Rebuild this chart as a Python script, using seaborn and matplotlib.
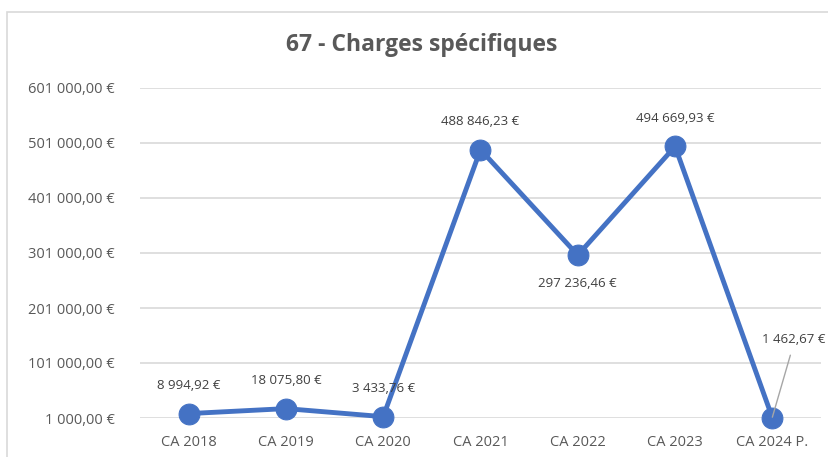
import matplotlib
matplotlib.use("Agg")
import matplotlib.pyplot as plt
import matplotlib.patches as mpatches
import seaborn as sns
import pandas as pd
import numpy as np

categories = ["CA 2018", "CA 2019", "CA 2020", "CA 2021", "CA 2022", "CA 2023", "CA 2024 P."]
values = [8994.92, 18075.80, 3433.76, 488846.23, 297236.46, 494669.93, 1462.67]
labels = ["8 994,92 €", "18 075,80 €", "3 433,76 €", "488 846,23 €", "297 236,46 €", "494 669,93 €", "1 462,67 €"]
yticks = [1000, 101000, 201000, 301000, 401000, 501000, 601000]
ytick_labels = ["1 000,00 €", "101 000,00 €", "201 000,00 €", "301 000,00 €", "401 000,00 €", "501 000,00 €", "601 000,00 €"]

sns.set_theme(style="white")
plt.rcParams['font.family'] = ['Open Sans', 'DejaVu Sans']

df = pd.DataFrame({"cat": categories, "val": values, "x": np.arange(len(categories))})

fig = plt.figure(figsize=(8.29, 4.57), dpi=100)
ax = fig.add_axes([140/829, 1-418/457, 681/829, 330/457])

# border of the chart area (left and top visible)
fig.patches.append(mpatches.Rectangle((7/829, -0.05), 1.1, 1 - 12/457 + 0.05, transform=fig.transFigure,
                                      fill=False, edgecolor="#D9D9D9", linewidth=1.2))

blue = "#4472C4"
sns.lineplot(data=df, x="x", y="val", ax=ax, color=blue, linewidth=3.5, marker="o",
             markersize=15, markeredgecolor=blue, markerfacecolor=blue, zorder=3)
for ln in ax.lines:
    ln.set_clip_on(False)

ax.set_xlim(-0.5, len(categories) - 0.5)
ax.set_ylim(yticks[0], yticks[-1])
ax.set_yticks(yticks)
ax.set_yticklabels(ytick_labels)
ax.set_xticks(np.arange(len(categories)))
ax.set_xticklabels(categories)
ax.set_xlabel("")
ax.set_ylabel("")
ax.tick_params(axis="both", colors="#595959", labelsize=10.5, length=0)
ax.tick_params(axis="x", pad=12)
ax.tick_params(axis="y", pad=18)
for s in ax.spines.values():
    s.set_visible(False)
ax.yaxis.grid(True, color="#D9D9D9", linewidth=1.2)
ax.set_axisbelow(True)

# data labels
offsets = [28, 28, 28, 28, -28, 28, None]
for i, (v, lab, off) in enumerate(zip(values, labels, offsets)):
    if off is None:
        continue
    ax.annotate(lab, (i, v), xytext=(0, off), textcoords="offset pixels",
                ha="center", va="center", fontsize=9.5, color="#404040")
# last label with leader line
i = len(values) - 1
ax.annotate(labels[i], (i, values[i]), xytext=(21, 78), textcoords="offset pixels",
            ha="center", va="center", fontsize=9.5, color="#404040")
ax.annotate("", (i, values[i] + 1000), xytext=(18, 62), textcoords="offset pixels",
            arrowprops=dict(arrowstyle="-", color="#A6A6A6", linewidth=1.0, shrinkA=0, shrinkB=0), zorder=4)

fig.text(422/829, 1 - 45/457, "67 - Charges spécifiques", ha="center", va="center",
         fontsize=16.5, fontweight="bold", color="#595959")

fig.savefig("out.png", dpi=100)
